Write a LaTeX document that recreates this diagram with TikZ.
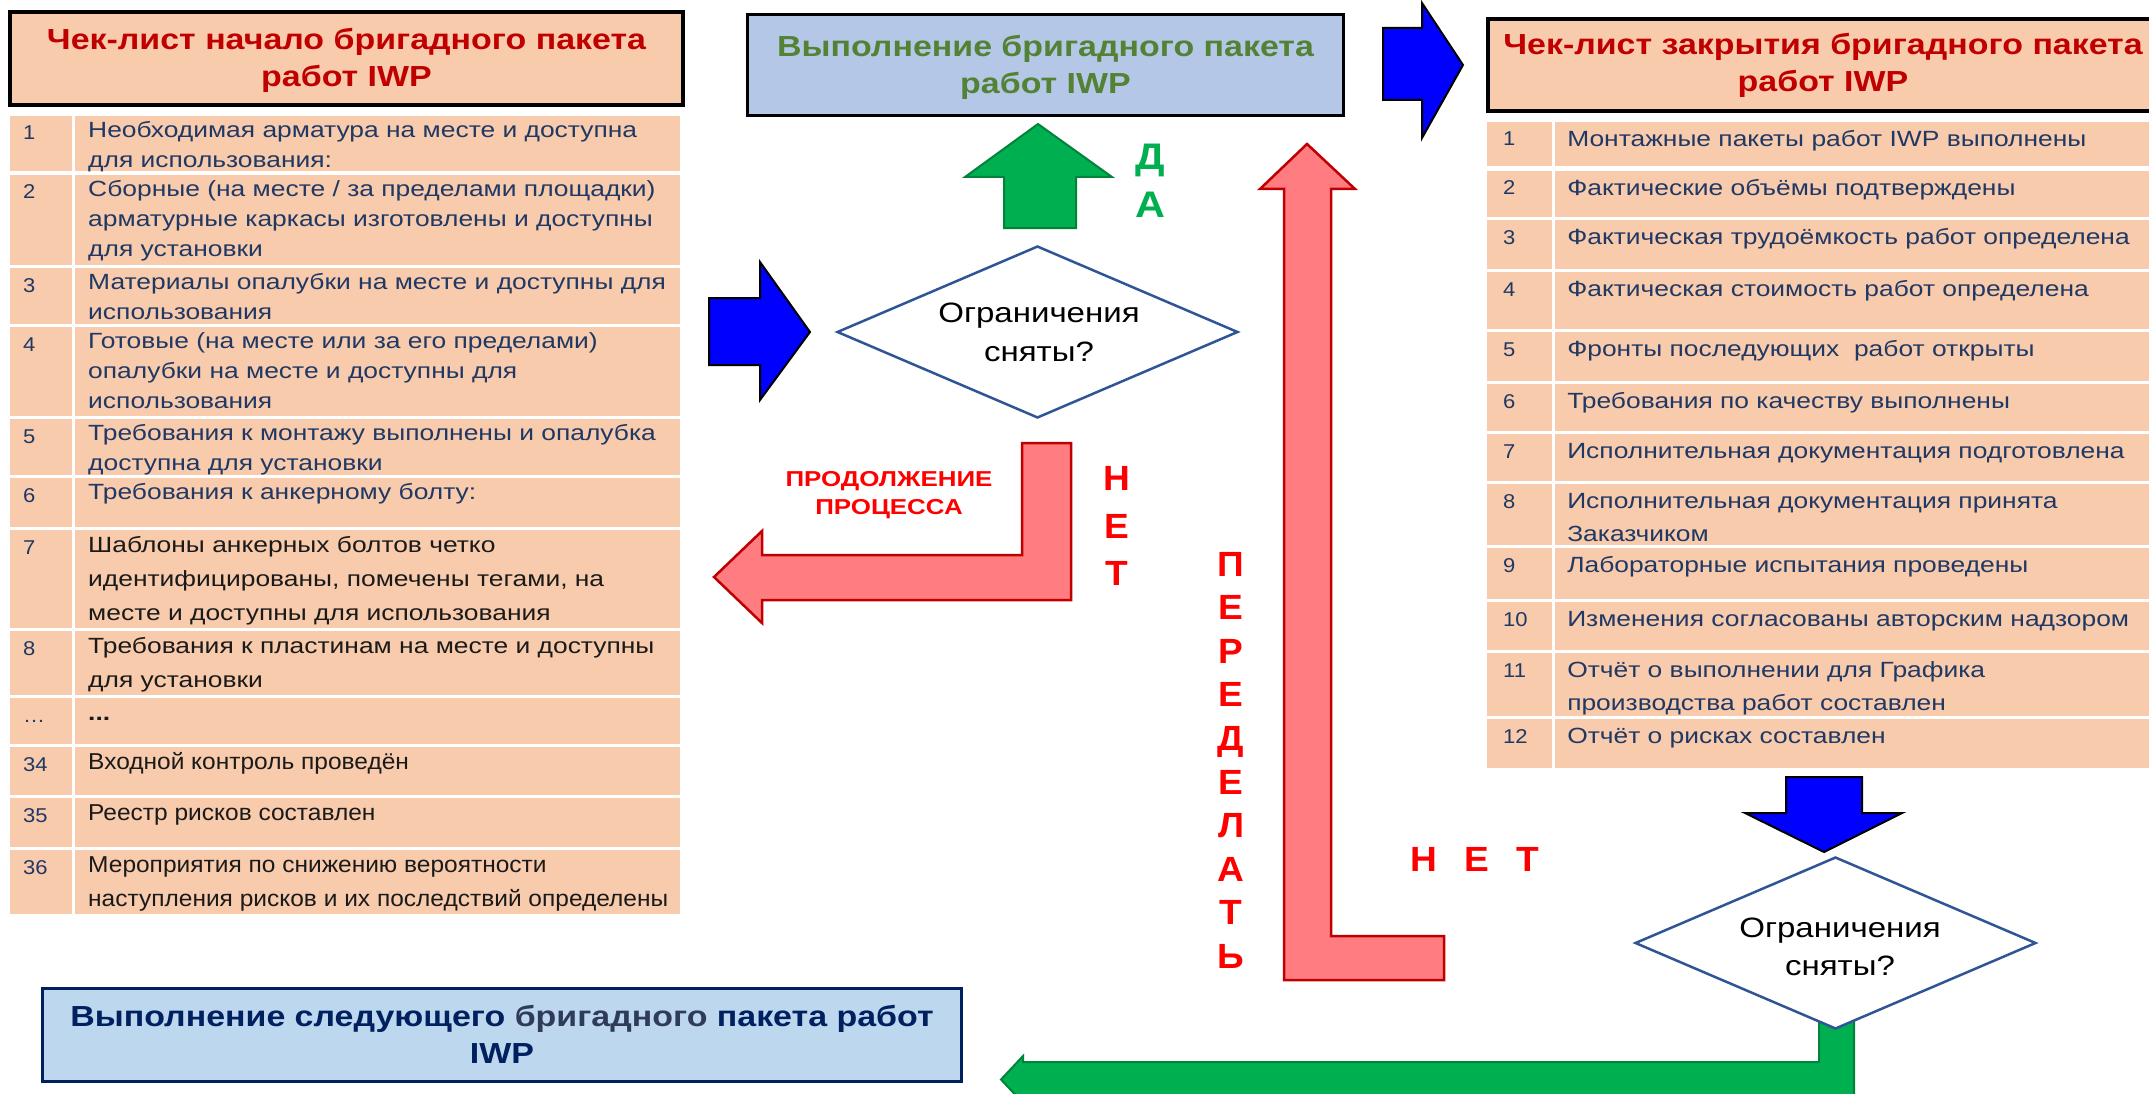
\documentclass[tikz,border=0pt]{standalone}
\usepackage{fontspec}
\setmainfont{Liberation Sans}
\usetikzlibrary{shapes.geometric}

\definecolor{peach}{HTML}{F8CBAD}
\definecolor{hdrred}{HTML}{C00000}
\definecolor{rowblue}{HTML}{203864}
\definecolor{rowblack}{HTML}{1A1A1A}
\definecolor{execfill}{HTML}{B4C7E7}
\definecolor{execgreen}{HTML}{548235}
\definecolor{nextfill}{HTML}{BDD7EE}
\definecolor{navy}{HTML}{002060}
\definecolor{navymid}{HTML}{2E3C5A}
\definecolor{arrowblue}{HTML}{0000FF}
\definecolor{okgreen}{HTML}{00B050}
\definecolor{okgreenline}{HTML}{00843C}
\definecolor{redfill}{HTML}{FF7C80}
\definecolor{redline}{HTML}{C00000}
\definecolor{alertred}{HTML}{FF0000}
\definecolor{diamondline}{HTML}{2F5597}

\tikzset{
  num/.style={inner sep=0pt, anchor=base west, text=rowblue,
    font=\fontsize{20}{24}\selectfont, xscale=1.1},
  rowA/.style={inner sep=0pt, anchor=north west, align=left, text=rowblue,
    font=\fontsize{22}{30}\selectfont, xscale=1.2, yshift=-0.3pt},
  rowB/.style={inner sep=0pt, anchor=north west, align=left, text=rowblack,
    font=\fontsize{22}{34}\selectfont, xscale=1.2, yshift=1.7pt},
  rowC/.style={inner sep=0pt, anchor=north west, align=left, text=rowblack,
    font=\fontsize{23}{34}\selectfont, xscale=1.065, yshift=1.7pt},
  rowR/.style={inner sep=0pt, anchor=north west, align=left, text=rowblue,
    font=\fontsize{22}{33}\selectfont, xscale=1.2, yshift=-0.8pt},
  titlebox/.style={draw=black, line width=4pt, fill=peach, inner sep=0pt},
  titletext/.style={inner sep=0pt, align=center, text=hdrred,
    font=\bfseries\fontsize{29}{37}\selectfont, xscale=1.17},
  execbox/.style={draw=black, line width=3pt, fill=execfill, inner sep=0pt},
  nextbox/.style={draw=navy, line width=3pt, fill=nextfill, inner sep=0pt},
  decision/.style={diamond, draw=diamondline, line width=2.5pt, fill=white,
    inner sep=0pt, minimum width=401pt, minimum height=172pt},
  decisiontext/.style={inner sep=0pt, align=center, text=black,
    font=\fontsize{28}{38.6}\selectfont, xscale=1.18},
  bluearrow/.style={fill=arrowblue, draw=black, line width=2pt, line join=miter},
  greenarrow/.style={fill=okgreen, draw=okgreenline, line width=2pt, line join=miter},
  redarrow/.style={fill=redfill, draw=redline, line width=2.5pt, line join=miter},
  alert/.style={inner sep=0pt, align=center, text=alertred, font=\bfseries},
}

% one row of the start check-list: name, top, bottom, number, style, text
\newcommand\lrow[6]{%
  \fill[peach] (10,#2) rectangle (72,#3);
  \fill[peach] (75,#2) rectangle (680,#3);
  \node[num] (#1n) at (23,#2+24) {#4};
  \node[#5] (#1t) at (88,#2) {\strut #6};
}
% one row of the closing check-list
\newcommand\rrow[6]{%
  \fill[peach] (1487,#2) rectangle (1552,#3);
  \fill[peach] (1555,#2) rectangle (2160,#3);
  \node[num] (#1n) at (1503,#2+24) {#4};
  \node[#5] (#1t) at (1567,#2) {\strut #6};
}

\begin{document}
\begin{tikzpicture}[x=1pt,y=-1pt]
\clip (0,0) rectangle (2149,1094);
\fill[white] (0,0) rectangle (2149,1094);

% start-of-work check-list
\node[titlebox, minimum width=673pt, minimum height=93pt] (startbox) at (346.5,58.5) {};
\node[titletext] (starttitle) at (346.5,60.7) {Чек-лист начало бригадного пакета\\работ IWP};

\lrow{L1}{116}{171}{1}{rowA}{Необходимая арматура на месте и доступна\\для использования:}
\lrow{L2}{175}{265}{2}{rowA}{Сборные (на месте / за пределами площадки)\\арматурные каркасы изготовлены и доступны\\для установки}
\lrow{L3}{268}{324}{3}{rowA}{Материалы опалубки на месте и доступны для\\использования}
\lrow{L4}{327}{416}{4}{rowA}{Готовые (на месте или за его пределами)\\опалубки на месте и доступны для\\использования}
\lrow{L5}{419}{475}{5}{rowA}{Требования к монтажу выполнены и опалубка\\доступна для установки}
\lrow{L6}{478}{527}{6}{rowA}{Требования к анкерному болту:}
\lrow{L7}{530}{628}{7}{rowB}{Шаблоны анкерных болтов четко\\идентифицированы, помечены тегами, на\\месте и доступны для использования}
\lrow{L8}{631}{695}{8}{rowB}{Требования к пластинам на месте и доступны\\для установки}
\lrow{Ldots}{698}{744}{\dots}{rowB}{\textbf{...}}
\lrow{L34}{747}{795}{34}{rowC}{Входной контроль проведён}
\lrow{L35}{798}{847}{35}{rowC}{Реестр рисков составлен}
\lrow{L36}{850}{914}{36}{rowC}{Мероприятия по снижению вероятности\\наступления рисков и их последствий определены}

% work package execution
\node[execbox, minimum width=596pt, minimum height=101pt] (execbox) at (1045.5,65) {};
\node[titletext, text=execgreen] (exectitle) at (1045.5,67) {Выполнение бригадного пакета\\работ IWP};

% closing check-list
\node[titlebox, minimum width=670pt, minimum height=92pt] (closebox) at (1823,65) {};
\node[titletext] (closetitle) at (1823,65.4) {Чек-лист закрытия бригадного пакета\\работ IWP};

\rrow{R1}{122}{166}{1}{rowR}{Монтажные пакеты работ IWP выполнены}
\rrow{R2}{171}{217}{2}{rowR}{Фактические объёмы подтверждены}
\rrow{R3}{220}{269}{3}{rowR}{Фактическая трудоёмкость работ определена}
\rrow{R4}{272}{329}{4}{rowR}{Фактическая стоимость работ определена}
\rrow{R5}{332}{381}{5}{rowR}{Фронты последующих\ \ работ открыты}
\rrow{R6}{384}{431}{6}{rowR}{Требования по качеству выполнены}
\rrow{R7}{434}{481}{7}{rowR}{Исполнительная документация подготовлена}
\rrow{R8}{484}{545}{8}{rowR}{Исполнительная документация принята\\Заказчиком}
\rrow{R9}{548}{599}{9}{rowR}{Лабораторные испытания проведены}
\rrow{R10}{602}{650}{10}{rowR}{Изменения согласованы авторским надзором}
\rrow{R11}{653}{716}{11}{rowR}{Отчёт о выполнении для Графика\\производства работ составлен}
\rrow{R12}{719}{768}{12}{rowR}{Отчёт о рисках составлен}

% next work package
\node[nextbox, minimum width=919pt, minimum height=93pt] (nextbox) at (502,1035) {};
\node[titletext, text=navy] (nexttitle) at (502,1034.4)
  {Выполнение следующего {\color{navymid}бригадного} пакета работ\\IWP};

% block arrows
\draw[bluearrow] (709,298) -- (760,298) -- (760,262) -- (810,332) -- (760,400) -- (760,365) -- (709,365) -- cycle;
\draw[bluearrow] (1383,28) -- (1422,28) -- (1422,3) -- (1463,65) -- (1422,138) -- (1422,100) -- (1383,100) -- cycle;
\draw[bluearrow] (1786,777) -- (1862,777) -- (1862,813) -- (1902,813) -- (1824,852) -- (1745,813) -- (1786,813) -- cycle;
\draw[greenarrow] (1004,228) -- (1004,177) -- (965,177) -- (1038,124) -- (1112,177) -- (1076,177) -- (1076,228) -- cycle;
\draw[redarrow] (1022,443) -- (1071,443) -- (1071,600) -- (762,600) -- (762,623) -- (714,577) -- (762,531) -- (762,555) -- (1022,555) -- cycle;
\draw[redarrow] (1307,144) -- (1355,189) -- (1331,189) -- (1331,936) -- (1444,936) -- (1444,980) -- (1284,980) -- (1284,189) -- (1260,189) -- cycle;
\draw[greenarrow] (1819,1000) -- (1854,1000) -- (1854,1097) -- (1023,1097) -- (1023,1103) -- (1001,1079.5) -- (1023,1056) -- (1023,1062) -- (1819,1062) -- cycle;

% decisions
\node[decision] (check1) at (1037.5,332) {};
\node[decisiontext] (check1text) at (1039,332.4) {Ограничения\\сняты?};
\node[decision] (check2) at (1835.5,943) {};
\node[decisiontext] (check2text) at (1840,947) {Ограничения\\сняты?};

% answers
\node[alert, text=okgreen, font=\bfseries\fontsize{37}{48}\selectfont, xscale=1.12] (yes) at (1150,180.5) {Д\\А};
\node[alert, font=\bfseries\fontsize{21.6}{28}\selectfont, xscale=1.2] (cont) at (889,495.5) {ПРОДОЛЖЕНИЕ\\ПРОЦЕССА};
\node[alert, font=\bfseries\fontsize{35}{47.3}\selectfont, xscale=1.06] (no1) at (1117,526) {Н\\Е\\Т};
\node[alert, font=\bfseries\fontsize{35}{43.6}\selectfont, xscale=1.06] (redo) at (1231,760.2) {П\\Е\\Р\\Е\\Д\\Е\\Л\\А\\Т\\Ь};
\node[alert, anchor=base, font=\bfseries\fontsize{35}{40}\selectfont, xscale=1.06] (no2) at (1475,871.5) {Н\hspace{26pt}Е\hspace{26pt}Т};
\end{tikzpicture}
\end{document}
